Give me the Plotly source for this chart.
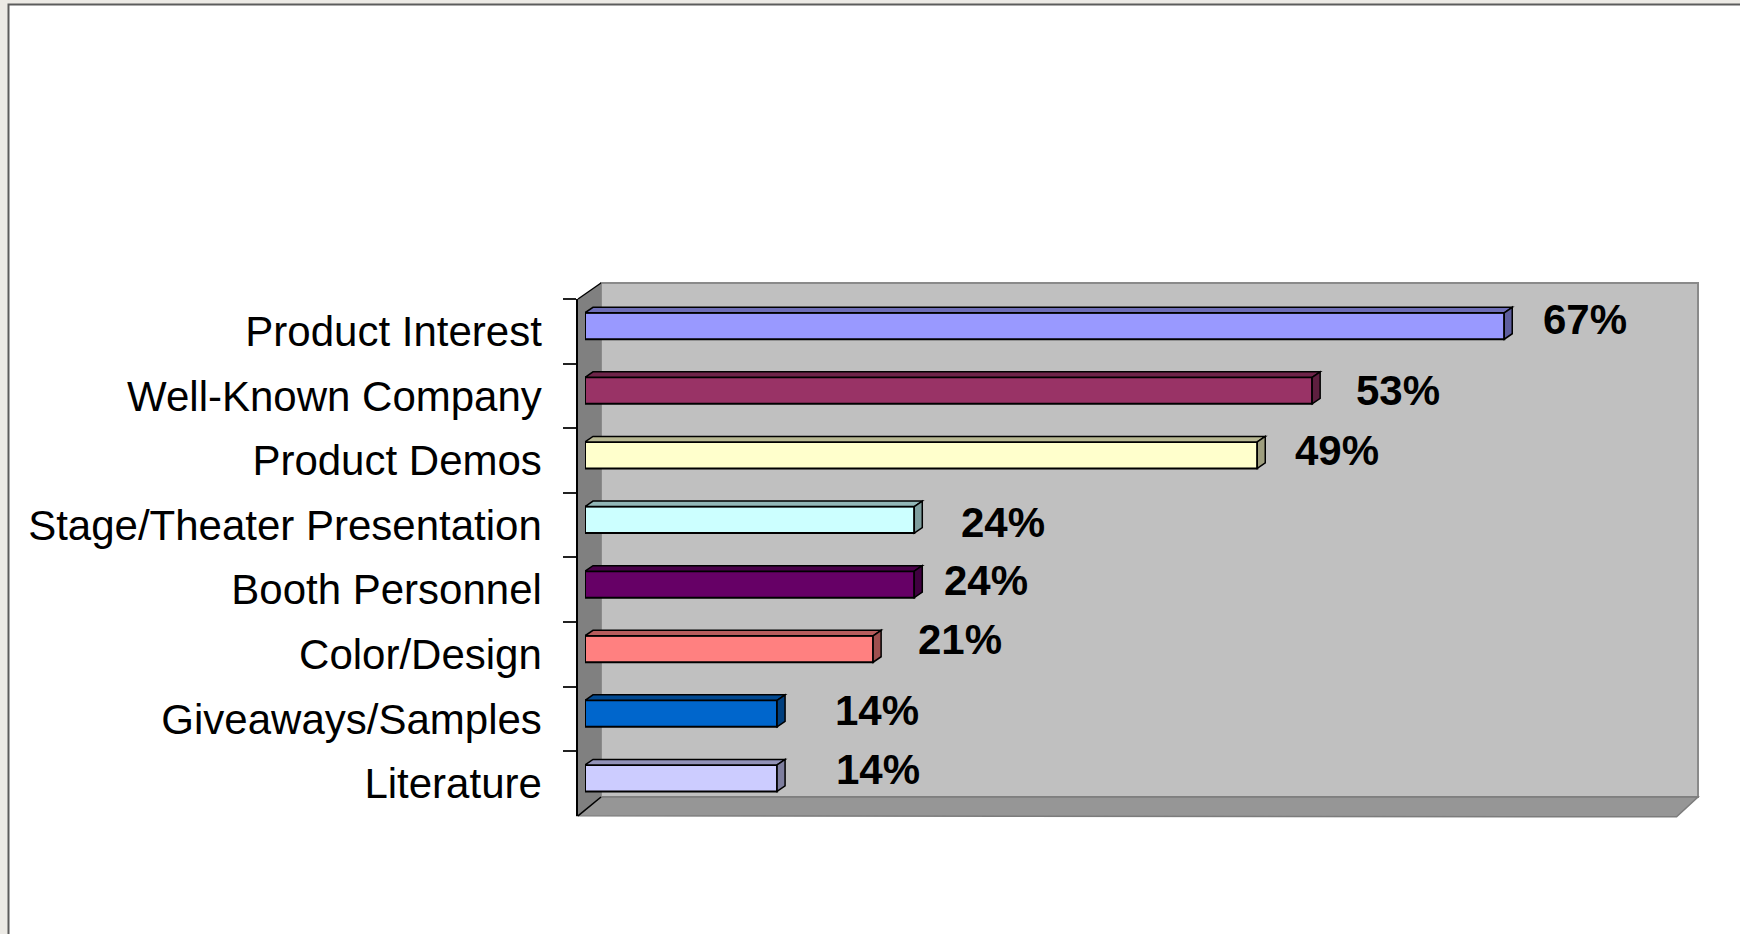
import plotly.graph_objects as go

W, H = 1740, 934

# ---- data ----
categories = [
    "Product Interest",
    "Well-Known Company",
    "Product Demos",
    "Stage/Theater Presentation",
    "Booth Personnel",
    "Color/Design",
    "Giveaways/Samples",
    "Literature",
]
values = [67, 53, 49, 24, 24, 21, 14, 14]
value_labels = [f"{v}%" for v in values]

# ---- styling ----
bar_colors = ["#9999FF", "#993366", "#FFFFCC", "#CCFFFF",
              "#660066", "#FF8080", "#0066CC", "#CCCCFF"]
# hand-placed nudges of each value label (pixels, right / up)
label_dx = [37, 42, 36, 45, 28, 43, 56, 57]
label_dy = [7, 0, 5, -3, 4, 10, 3, 9]

FONT = "Liberation Sans, Arial, sans-serif"
X_MAX = 80
n = len(categories)


def shade(hex_color, f):
    h = hex_color.lstrip("#")
    r, g, b = (int(h[i:i + 2], 16) for i in (0, 2, 4))
    return "#{:02x}{:02x}{:02x}".format(int(r * f), int(g * f), int(b * f))


def px(x):
    return x / W


def py(y):
    return 1 - y / H


# front plane of the 3-D box (pixels)
FX0, FX1 = 578, 1675.6
FY0, FY1 = 299, 815.8
# bars sit a little deeper inside the box
BX0, BY0 = FX0 + 7, FY0 - 5.3
BX1, BY1 = FX1 + 7, FY1 - 5.3
# back wall
WX0, WY0, WX1, WY1 = 601, 283, 1698, 797

SX = (FX1 - FX0) / X_MAX
SY = (FY1 - FY0) / n
BAR_W = 0.41
dxd = 8 / SX      # bar depth along x (data units)
dyd = 5.5 / SY    # bar depth along y (category units)

fig = go.Figure()

# category axis carrier on the front plane
fig.add_trace(go.Scatter(
    x=values, y=categories, mode="markers", marker=dict(opacity=0),
    hoverinfo="skip", showlegend=False, xaxis="x", yaxis="y",
))

# bar front faces
fig.add_trace(go.Bar(
    x=values, y=list(range(n)), orientation="h", width=BAR_W,
    marker=dict(color=bar_colors, line=dict(color="black", width=2)),
    hoverinfo="skip", showlegend=False, xaxis="x2", yaxis="y2",
))

shapes = []

# page frame
shapes.append(dict(type="rect", xref="paper", yref="paper", layer="below",
                   x0=px(8.5), x1=px(1760), y0=py(4.5), y1=py(960),
                   fillcolor="white", line=dict(color="#5c5c5c", width=2)))
# back wall
shapes.append(dict(type="rect", xref="paper", yref="paper", layer="below",
                   x0=px(WX0), x1=px(WX1), y0=py(WY1), y1=py(WY0),
                   fillcolor="#C0C0C0", line=dict(color="#8a8a8a", width=2)))
# left side wall
shapes.append(dict(type="path", xref="paper", yref="paper", layer="below",
                   path=f"M {px(FX0)},{py(FY0)} L {px(WX0)},{py(WY0)} "
                        f"L {px(WX0)},{py(WY1)} L {px(FX0)},{py(FY1)} Z",
                   fillcolor="#808080", line=dict(width=0)))
# floor
shapes.append(dict(type="path", xref="paper", yref="paper", layer="below",
                   path=f"M {px(FX0)},{py(FY1)} L {px(WX0)},{py(WY1)} "
                        f"L {px(WX1)},{py(WY1)} L {px(FX1 + 1)},{py(FY1 + 1)} Z",
                   fillcolor="#969696", line=dict(color="#7c7c7c", width=1.5)))
# wall edges
for (xa, ya, xb, yb) in [(FX0, FY0, WX0, WY0), (FX0, FY1, WX0, WY1)]:
    shapes.append(dict(type="line", xref="paper", yref="paper", layer="below",
                       x0=px(xa), y0=py(ya), x1=px(xb), y1=py(yb),
                       line=dict(color="black", width=1.5)))

# bar top and end faces
for i, v in enumerate(values):
    top = i - BAR_W / 2
    bot = i + BAR_W / 2
    shapes.append(dict(
        type="path", xref="x2", yref="y2", layer="above",
        path=f"M 0,{top} L {dxd},{top - dyd} L {v + dxd},{top - dyd} L {v},{top} Z",
        fillcolor=shade(bar_colors[i], 0.72), line=dict(color="black", width=1.5)))
    shapes.append(dict(
        type="path", xref="x2", yref="y2", layer="above",
        path=f"M {v},{top} L {v + dxd},{top - dyd} L {v + dxd},{bot - dyd} L {v},{bot} Z",
        fillcolor=shade(bar_colors[i], 0.62), line=dict(color="black", width=1.5)))

annotations = []
for i, (v, t) in enumerate(zip(values, value_labels)):
    annotations.append(dict(
        x=v, y=i, xref="x2", yref="y2", text=t, showarrow=False,
        xanchor="left", yanchor="middle",
        xshift=label_dx[i], yshift=label_dy[i],
        font=dict(family=FONT, size=42, color="black", weight="bold"),
    ))

fig.update_layout(
    width=W, height=H,
    margin=dict(l=0, r=0, t=0, b=0),
    paper_bgcolor="#ECEAE5",
    plot_bgcolor="rgba(0,0,0,0)",
    showlegend=False,
    shapes=shapes,
    annotations=annotations,
    xaxis=dict(domain=[px(FX0), px(FX1)], range=[0, X_MAX], anchor="y",
               showgrid=False, zeroline=False, showticklabels=False,
               ticks="", showline=False),
    yaxis=dict(domain=[py(FY1), py(FY0)], anchor="x", type="category",
               categoryorder="array", categoryarray=categories,
               range=[n - 0.5, -0.5], showgrid=False, zeroline=False,
               ticks="outside", tickson="boundaries", ticklen=13,
               tickwidth=1.5, tickcolor="#222222",
               showline=True, linecolor="black", linewidth=1.5,
               tickfont=dict(family=FONT, size=42, color="black"),
               ticklabelstandoff=26, automargin=False),
    xaxis2=dict(domain=[px(BX0), px(BX1)], range=[0, X_MAX], anchor="y2",
                visible=False),
    yaxis2=dict(domain=[py(BY1), py(BY0)], range=[n - 0.5, -0.5],
                anchor="x2", visible=False),
)

fig.write_html("out.html")
